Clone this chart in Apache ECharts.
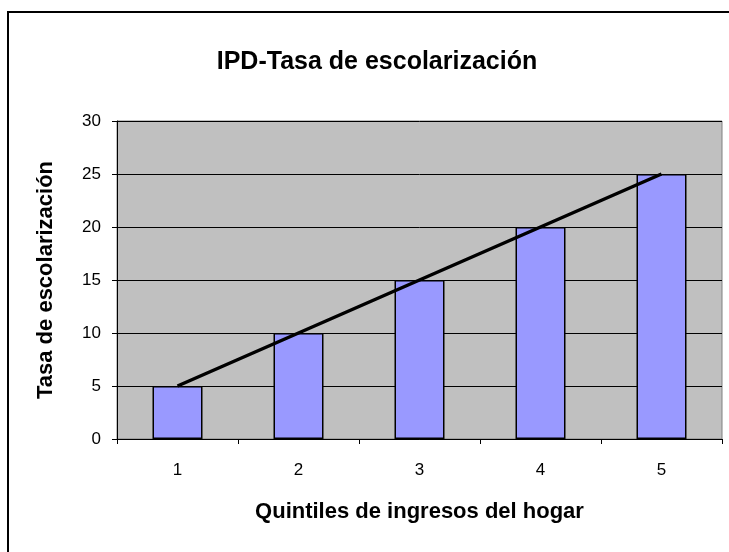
<!DOCTYPE html>
<html>
<head>
<meta charset="utf-8">
<script src="https://cdn.jsdelivr.net/npm/echarts@6/dist/echarts.min.js"></script>
<style>
  html, body { margin: 0; padding: 0; background: #fff; }
  #main { width: 729px; height: 552px; }
</style>
</head>
<body>
<div id="main"></div>
<script>
    // datos
    var quintiles = ['1', '2', '3', '4', '5'];
    var tasa = [5, 10, 15, 20, 25];
    var tendencia = [5, 10, 15, 20, 25];

    var chart = echarts.init(document.getElementById('main'));
    var font = 'Arial, "Liberation Sans", sans-serif';

    var option = {
        animation: false,
        backgroundColor: '#fff',
        title: {
            text: 'IPD-Tasa de escolarización',
            left: 372,
            top: 45,
            textAlign: 'center',
            textStyle: { fontFamily: font, fontSize: 25, fontWeight: 'bold', color: '#000' }
        },
        graphic: [
            {
                type: 'rect',
                shape: { x: 8, y: 12, width: 800, height: 700 },
                style: { fill: 'none', stroke: '#000', lineWidth: 2 },
                silent: true
            }
        ],
        grid: {
            left: 117, top: 121, right: 7, bottom: 113,
            show: true,
            backgroundColor: '#C0C0C0',
            borderColor: '#808080',
            borderWidth: 1
        },
        xAxis: {
            type: 'category',
            data: quintiles,
            name: 'Quintiles de ingresos del hogar',
            nameLocation: 'middle',
            nameGap: 62,
            nameTextStyle: { fontFamily: font, fontSize: 22, fontWeight: 'bold', color: '#000' },
            axisLine: { lineStyle: { color: '#000', width: 1 } },
            axisTick: { show: true, length: 5, lineStyle: { color: '#000' } },
            axisLabel: { margin: 23, fontFamily: font, fontSize: 17, color: '#000' },
            splitLine: { show: false }
        },
        yAxis: {
            type: 'value',
            min: 0, max: 30, interval: 5,
            name: 'Tasa de escolarización',
            nameLocation: 'middle',
            nameGap: 60,
            nameTextStyle: { fontFamily: font, fontSize: 22, fontWeight: 'bold', color: '#000' },
            axisLine: { show: true, lineStyle: { color: '#000', width: 1 } },
            axisTick: { show: true, length: 5, lineStyle: { color: '#000' } },
            axisLabel: { margin: 16, fontFamily: font, fontSize: 17, color: '#000' },
            splitLine: { show: true, lineStyle: { color: '#000', width: 1 } }
        },
        series: [
            {
                name: 'Tasa',
                type: 'bar',
                data: tasa,
                barWidth: 50,
                itemStyle: { color: '#9999FF', borderColor: '#000', borderWidth: 1.5 }
            },
            {
                name: 'Tendencia',
                type: 'line',
                data: tendencia,
                showSymbol: false,
                symbol: 'none',
                z: 5,
                lineStyle: { color: '#000', width: 3.5 }
            }
        ]
    };
    chart.setOption(option);
</script>
</body>
</html>
